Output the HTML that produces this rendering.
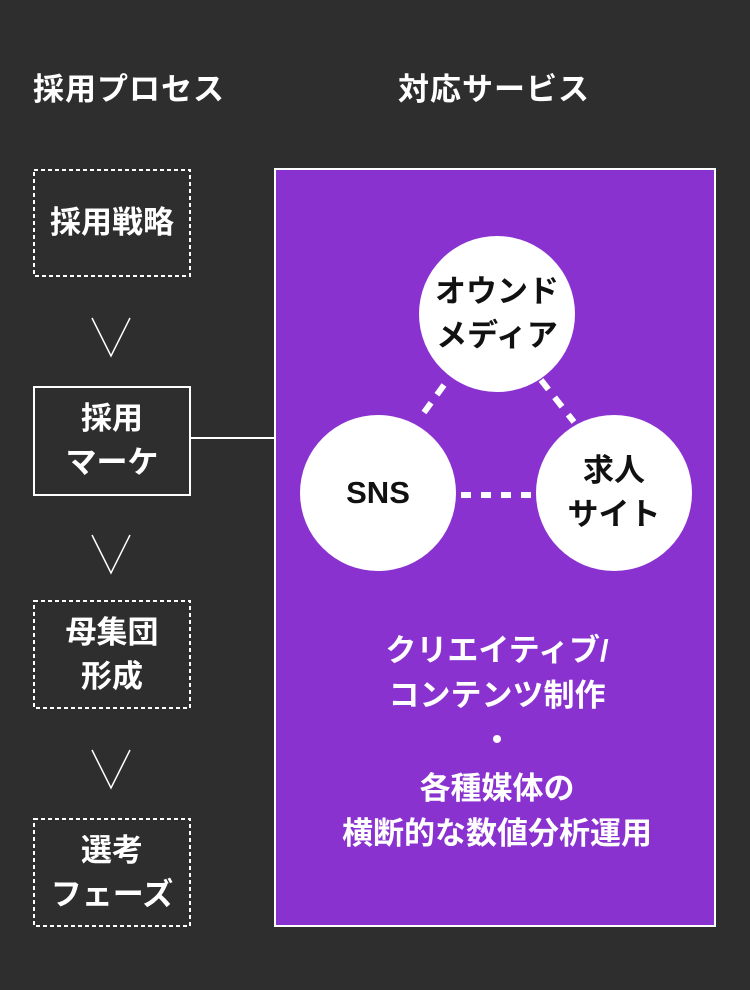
<!DOCTYPE html>
<html><head><meta charset="utf-8"><style>
body{margin:0;width:750px;height:990px;background:#2e2e2e;position:relative;overflow:hidden;font-family:"Liberation Sans","Noto Sans CJK JP",sans-serif;font-weight:bold;color:#fff}
.a{position:absolute}
.h{font-size:31px;top:64px;letter-spacing:1px}
.box{position:absolute;left:33px;width:158px;display:flex;align-items:center;justify-content:center;text-align:center;font-size:31px;line-height:44px}
.circ{position:absolute;width:156px;height:156px;border-radius:50%;background:#fff;color:#111;display:flex;align-items:center;justify-content:center;text-align:center;font-size:31px;line-height:44px}
.t{position:absolute;left:277px;width:440px;text-align:center;font-size:31px;line-height:45px}
</style></head><body>
<div class="a h" style="left:33px">採用プロセス</div>
<div class="a h" style="left:398px">対応サービス</div>

<svg class="a" style="left:0;top:0" width="750" height="990">
<g fill="none" stroke="#fff" stroke-width="2" stroke-dasharray="4,3">
<rect x="34" y="170" width="156" height="106"/>
<rect x="34" y="601" width="156" height="107"/>
<rect x="34" y="819" width="156" height="107"/>
</g>
<rect x="34" y="387" width="156" height="108" fill="none" stroke="#fff" stroke-width="2"/>
<polyline points="92,318 111,356 130,318" fill="none" stroke="#fff" stroke-width="1.5"/>
<polyline points="92,535 111,573 130,535" fill="none" stroke="#fff" stroke-width="1.5"/>
<polyline points="92,750 111,788 130,750" fill="none" stroke="#fff" stroke-width="1.5"/>
<line x1="190" y1="438" x2="276" y2="438" stroke="#fff" stroke-width="2"/>
<rect x="275" y="169" width="440" height="757" fill="#8a32d0" stroke="#fff" stroke-width="2"/>
<line x1="444" y1="385" x2="420" y2="418" stroke="#fff" stroke-width="6" stroke-dasharray="12,10"/>
<line x1="541" y1="380" x2="574" y2="422" stroke="#fff" stroke-width="6" stroke-dasharray="12,10"/>
<line x1="461" y1="495" x2="535" y2="495" stroke="#fff" stroke-width="6" stroke-dasharray="10,10"/>
</svg>

<div class="box" style="top:170px;height:106px">採用戦略</div>
<div class="box" style="top:387px;height:108px">採用<br>マーケ</div>
<div class="box" style="top:601px;height:107px">母集団<br>形成</div>
<div class="box" style="top:819px;height:107px">選考<br>フェーズ</div>

<div class="circ" style="left:419px;top:236px">オウンド<br>メディア</div>
<div class="circ" style="left:300px;top:415px">SNS</div>
<div class="circ" style="left:536px;top:415px">求人<br>サイト</div>

<div class="t" style="top:628px">クリエイティブ/<br>コンテンツ制作<br>・</div>
<div class="t" style="top:766px">各種媒体の<br>横断的な数値分析運用</div>
</body></html>
